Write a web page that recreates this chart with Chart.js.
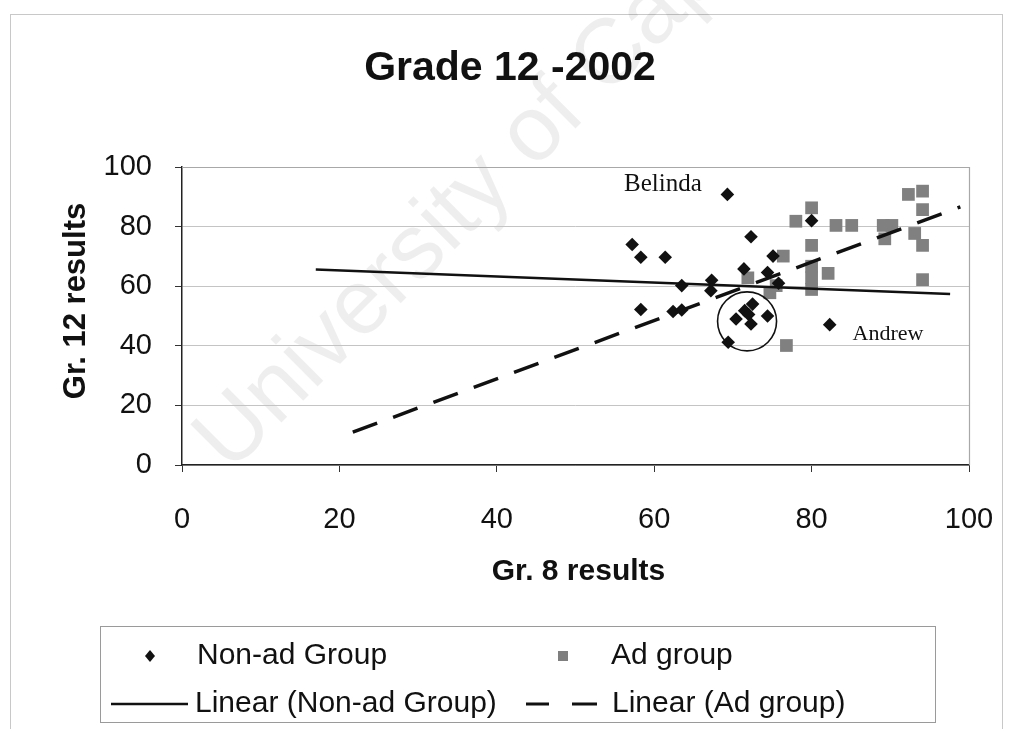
<!DOCTYPE html>
<html><head><meta charset="utf-8">
<script src="https://cdn.jsdelivr.net/npm/chart.js@4.4.1/dist/chart.umd.min.js"></script>
<style>html,body{margin:0;padding:0;background:#fff;}#wrap{position:relative;width:1013px;height:729px;}</style>
</head><body><div id="wrap"><canvas id="c"></canvas></div>
<script>
// ---- data ----
const nonAdX = [69.3, 57.2, 58.3, 61.4, 72.3, 71.4, 74.4, 75.1, 67.3, 67.2, 63.5, 75.8, 58.3, 62.4, 63.5, 69.4, 70.4, 71.5, 72.5, 72.0, 72.3, 74.4, 82.3, 80.0];
const nonAdY = [90.8, 74.0, 69.7, 69.7, 76.6, 65.8, 64.6, 70.1, 62.0, 58.5, 60.2, 61.0, 52.2, 51.5, 52.0, 41.2, 49.0, 51.8, 54.0, 50.5, 47.3, 50.0, 47.1, 82.0];
const adX = [71.9, 74.7, 75.5, 76.4, 76.8, 78.0, 80.0, 80.0, 80.0, 80.0, 80.0, 82.1, 83.1, 85.1, 89.1, 90.2, 89.3, 92.3, 94.1, 94.1, 93.1, 94.1, 94.1];
const adY = [62.8, 57.8, 60.2, 70.1, 40.1, 81.8, 86.3, 73.7, 66.7, 62.8, 58.9, 64.3, 80.4, 80.4, 80.4, 80.4, 75.9, 90.8, 91.9, 85.7, 77.7, 73.7, 62.2];
const trendNonAdX = [17.0, 97.6];
const trendNonAdY = [65.6, 57.4];
const trendAdX = [21.7, 98.9];
const trendAdY = [11.0, 86.6];
const xTicks = [0, 20, 40, 60, 80, 100];
const yTicks = [0, 20, 40, 60, 80, 100];
const noteText = ['Belinda', 'Andrew'];
const noteX = [61.1, 89.7];
const noteY = [94.1, 43.8];
const circleX = [71.8];
const circleY = [48.2];
const seriesNames = ['Non-ad Group', 'Ad group', 'Linear (Non-ad Group)', 'Linear (Ad group)'];
const titleText = 'Grade 12 -2002';
const xTitle = 'Gr. 8 results';
const yTitle = 'Gr. 12 results';
const watermark = 'University of Cape Town';

const SANS = "'Liberation Sans', Arial, sans-serif";
const SERIF = "'Liberation Serif', 'Times New Roman', serif";
const pts = (xs, ys) => xs.map((x, i) => ({x: x, y: ys[i]}));

const decor = {
  id: 'decor',
  beforeDraw(chart) {
    const ctx = chart.ctx;
    ctx.save();
    ctx.fillStyle = '#fff';
    ctx.fillRect(0, 0, chart.width, chart.height);
    ctx.strokeStyle = '#c8c8c8';
    ctx.lineWidth = 1;
    ctx.strokeRect(10.5, 14.5, 992, 740);
    // faint watermark
    ctx.translate(230, 474);
    ctx.rotate(-Math.PI / 4);
    ctx.font = '92px ' + SANS;
    ctx.fillStyle = 'rgba(0,0,0,0.065)';
    ctx.textBaseline = 'alphabetic';
    ctx.fillText(watermark, 0, 0);
    ctx.restore();
  },
  beforeDatasetsDraw(chart) {
    const {ctx, chartArea: a} = chart;
    ctx.save();
    ctx.strokeStyle = '#a8a8a8';
    ctx.lineWidth = 1.2;
    ctx.beginPath();
    ctx.moveTo(a.left, a.top + 0.5); ctx.lineTo(a.right + 0.5, a.top + 0.5);
    ctx.lineTo(a.right + 0.5, a.bottom);
    ctx.stroke();
    ctx.restore();
  },
  afterDraw(chart) {
    const ctx = chart.ctx;
    const xs = chart.scales.x, ys = chart.scales.y;
    const a = chart.chartArea;
    ctx.save();
    // chart title
    ctx.fillStyle = '#111';
    ctx.textAlign = 'center';
    ctx.textBaseline = 'middle';
    ctx.font = 'bold 41px ' + SANS;
    ctx.fillText(titleText, 510, 69);
    // axis titles
    ctx.font = 'bold 30px ' + SANS;
    ctx.fillText(xTitle, (a.left + a.right) / 2 + 3, 572);
    ctx.save();
    ctx.translate(76, 301);
    ctx.rotate(-Math.PI / 2);
    ctx.font = 'bold 31px ' + SANS;
    ctx.fillText(yTitle, 0, 0);
    ctx.restore();
    // annotations
    const sizes = [25, 22];
    noteText.forEach((t, i) => {
      ctx.font = sizes[i] + 'px ' + SERIF;
      ctx.fillText(t, xs.getPixelForValue(noteX[i]), ys.getPixelForValue(noteY[i]));
    });
    // circle round the cluster
    ctx.strokeStyle = '#111';
    ctx.lineWidth = 1.6;
    ctx.beginPath();
    ctx.arc(xs.getPixelForValue(circleX[0]), ys.getPixelForValue(circleY[0]), 29.5, 0, Math.PI * 2);
    ctx.stroke();

    // legend
    ctx.fillStyle = '#fff';
    ctx.fillRect(100, 626, 835, 96);
    ctx.strokeStyle = '#9a9a9a';
    ctx.lineWidth = 1;
    ctx.strokeRect(100.5, 626.5, 835, 96);
    ctx.font = '30px ' + SANS;
    ctx.textAlign = 'left';
    ctx.fillStyle = '#111';
    const r1 = 656, r2 = 704;
    ctx.beginPath();
    ctx.moveTo(150, r1 - 6); ctx.lineTo(155, r1); ctx.lineTo(150, r1 + 6); ctx.lineTo(145, r1); ctx.closePath();
    ctx.fill();
    ctx.fillText(seriesNames[0], 197, r1);
    ctx.fillStyle = '#7f7f7f';
    ctx.fillRect(558, r1 - 5, 10, 10);
    ctx.fillStyle = '#111';
    ctx.fillText(seriesNames[1], 611, r1);
    ctx.strokeStyle = '#111';
    ctx.lineWidth = 2.5;
    ctx.beginPath(); ctx.moveTo(111, r2); ctx.lineTo(188, r2); ctx.stroke();
    ctx.fillText(seriesNames[2], 195, r2);
    ctx.lineWidth = 3;
    ctx.beginPath(); ctx.moveTo(526, r2); ctx.lineTo(549, r2); ctx.moveTo(572, r2); ctx.lineTo(597, r2); ctx.stroke();
    ctx.fillText(seriesNames[3], 612, r2);
    ctx.restore();
  }
};

new Chart(document.getElementById('c'), {
  type: 'scatter',
  data: {
    datasets: [
      {label: seriesNames[2], type: 'line', data: pts(trendNonAdX, trendNonAdY), borderColor: '#111', borderWidth: 2.6, pointRadius: 0, fill: false, order: 0},
      {label: seriesNames[3], type: 'line', data: pts(trendAdX, trendAdY), borderColor: '#111', borderWidth: 3.5, borderDash: [26, 17], pointRadius: 0, fill: false, order: 1},
      {label: seriesNames[0], data: pts(nonAdX, nonAdY), pointStyle: 'rectRot', pointRadius: 6.8, backgroundColor: '#111', borderColor: '#111', borderWidth: 0, order: 2},
      {label: seriesNames[1], data: pts(adX, adY), pointStyle: 'rect', pointRadius: 9, backgroundColor: '#808080', borderColor: '#7a7a7a', borderWidth: 0, order: 3}
    ]
  },
  options: {
    responsive: true,
    maintainAspectRatio: false,
    animation: false,
    events: [],
    layout: {padding: {left: 0, right: 44, top: 167, bottom: 129}},
    plugins: {
      legend: {display: false},
      tooltip: {enabled: false},
      title: {display: false}
    },
    scales: {
      x: {
        type: 'linear', min: 0, max: 100,
        afterBuildTicks: s => { s.ticks = xTicks.map(v => ({value: v})); },
        afterFit: s => { s.height = 135; s.paddingLeft = 0; s.paddingRight = 0; },
        grid: {drawOnChartArea: false, drawTicks: true, tickLength: 7, tickColor: '#333'},
        border: {color: '#222', width: 1.5},
        ticks: {color: '#111', padding: 31, font: {family: SANS, size: 29}, maxRotation: 0},
        title: {display: false}
      },
      y: {
        type: 'linear', min: 0, max: 100,
        afterBuildTicks: s => { s.ticks = yTicks.map(v => ({value: v})); },
        afterFit: s => { s.width = 182; s.paddingTop = 0; s.paddingBottom = 0; },
        grid: {color: '#c4c4c4', lineWidth: 1, drawTicks: true, tickLength: 7, tickColor: '#333'},
        border: {color: '#222', width: 1.5},
        ticks: {color: '#111', padding: 23, font: {family: SANS, size: 29}},
        title: {display: false}
      }
    }
  },
  plugins: [decor]
});
</script>
</body></html>
